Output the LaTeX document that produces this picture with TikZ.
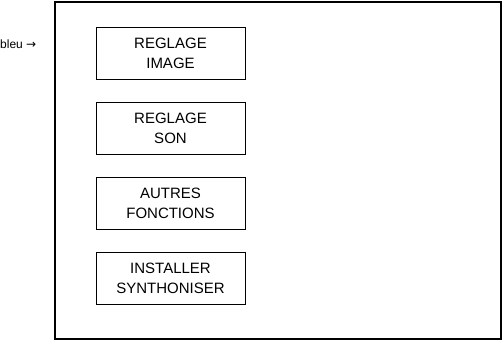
\documentclass[tikz,border=0pt]{standalone}
\usepackage{fontspec}
\setmainfont{Liberation Sans}
\newfontfamily\arrowfont{DejaVu Sans}
\usetikzlibrary{positioning}

\begin{document}
\begin{tikzpicture}[
        x=1pt, y=1pt,
        node distance=22pt,
        menu/.style={draw, line width=0.9pt, minimum width=149pt, minimum height=52pt, align=center, font=\fontsize{15}{20}\selectfont},
        frame/.style={draw, line width=1.1pt}
    ]
    \useasboundingbox (0,0) rectangle (504,341);

    % Outer screen
    \node [frame, minimum width=446pt, minimum height=337pt, inner sep=0pt](screen) at (278,170.5) {};

    % Menu entries
    \node [menu](image) at (170.5,287.5) {REGLAGE\\IMAGE};
    \node [menu](son) [below=of image] {REGLAGE\\SON};
    \node [menu](autres) [below=of son] {AUTRES\\FONCTIONS};
    \node [menu](installer) [below=of autres] {INSTALLER\\SYNTHONISER};

    % Cursor label
    \node [font=\fontsize{12}{14}\selectfont, inner sep=0pt, anchor=base west](bleu) at (0,293) {bleu {\arrowfont →}};

\end{tikzpicture}
\end{document}
